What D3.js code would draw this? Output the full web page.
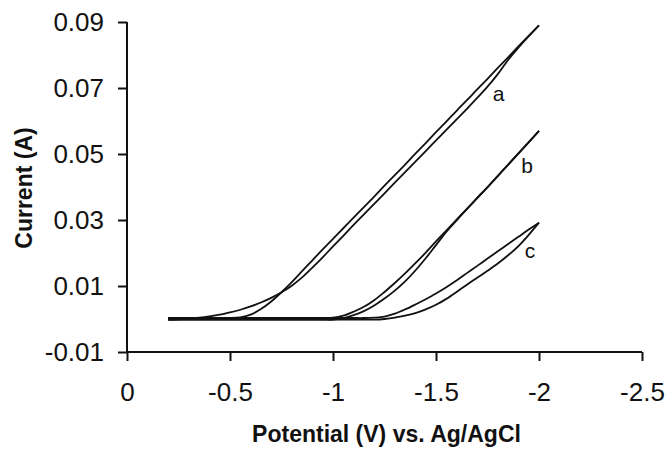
<!DOCTYPE html>
<html>
<head>
<meta charset="utf-8">
<script src="https://cdn.jsdelivr.net/npm/d3@7"></script>
<style>
  html, body { margin: 0; padding: 0; background: #fff; }
  svg { display: block; }
  text { font-family: "Liberation Sans", Arial, Helvetica, sans-serif; fill: #111; }
</style>
</head>
<body>
<svg id="chart" width="671" height="449"></svg>
<script>
// Cyclic voltammograms: potential grid (V vs. Ag/AgCl), current in A
const potential = [-0.20, -0.25, -0.30, -0.35, -0.40, -0.45, -0.50, -0.55, -0.60, -0.65,
  -0.70, -0.75, -0.80, -0.85, -0.90, -0.95, -1.00, -1.05, -1.10, -1.15,
  -1.20, -1.25, -1.30, -1.35, -1.40, -1.45, -1.50, -1.55, -1.60, -1.65,
  -1.70, -1.75, -1.80, -1.85, -1.90, -1.95, -2.00];

// curve a
const aCathodic = [0.0003, 0.0003, 0.0003, 0.0003, 0.0003, 0.0003, 0.0003, 0.0005, 0.0013, 0.0030,
  0.0053, 0.0081, 0.0112, 0.0145, 0.0178, 0.0211, 0.0243, 0.0275, 0.0307, 0.0339,
  0.0371, 0.0404, 0.0436, 0.0468, 0.0501, 0.0533, 0.0566, 0.0598, 0.0631, 0.0663,
  0.0696, 0.0728, 0.0761, 0.0793, 0.0826, 0.0858, 0.0890];
const aAnodic = [-0.0002, -0.0001, 0.0001, 0.0004, 0.0008, 0.0013, 0.0020, 0.0028, 0.0038, 0.0050,
  0.0064, 0.0081, 0.0101, 0.0126, 0.0156, 0.0187, 0.0220, 0.0252, 0.0285, 0.0317,
  0.0349, 0.0381, 0.0413, 0.0445, 0.0477, 0.0509, 0.0541, 0.0573, 0.0605, 0.0637,
  0.0670, 0.0704, 0.0742, 0.0785, 0.0822, 0.0857, 0.0890];

// curve b
const bCathodic = [0.0003, 0.0003, 0.0003, 0.0003, 0.0003, 0.0003, 0.0003, 0.0003, 0.0003, 0.0003,
  0.0003, 0.0003, 0.0003, 0.0003, 0.0003, 0.0003, 0.0004, 0.0010, 0.0022, 0.0037,
  0.0057, 0.0082, 0.0109, 0.0138, 0.0169, 0.0201, 0.0235, 0.0268, 0.0301, 0.0334,
  0.0367, 0.0400, 0.0434, 0.0468, 0.0502, 0.0536, 0.0570];
const bAnodic = [-0.0002, -0.0002, -0.0002, -0.0002, -0.0002, -0.0002, -0.0002, -0.0002, -0.0002, -0.0002,
  -0.0002, -0.0002, -0.0002, -0.0002, -0.0002, -0.0002, -0.0002, 0.0003, 0.0012, 0.0024,
  0.0041, 0.0062, 0.0086, 0.0114, 0.0147, 0.0184, 0.0224, 0.0264, 0.0299, 0.0333,
  0.0366, 0.0399, 0.0433, 0.0467, 0.0501, 0.0535, 0.0570];

// curve c
const cCathodic = [0.0003, 0.0003, 0.0003, 0.0003, 0.0003, 0.0003, 0.0003, 0.0003, 0.0003, 0.0003,
  0.0003, 0.0003, 0.0003, 0.0003, 0.0003, 0.0003, 0.0003, 0.0003, 0.0003, 0.0003,
  0.0004, 0.0007, 0.0016, 0.0029, 0.0044, 0.0060, 0.0077, 0.0096, 0.0117, 0.0139,
  0.0161, 0.0183, 0.0205, 0.0227, 0.0249, 0.0271, 0.0292];
const cAnodic = [-0.0002, -0.0002, -0.0002, -0.0002, -0.0002, -0.0002, -0.0002, -0.0002, -0.0002, -0.0002,
  -0.0002, -0.0002, -0.0002, -0.0002, -0.0002, -0.0002, -0.0002, -0.0002, -0.0002, -0.0002,
  -0.0002, 0.0000, 0.0004, 0.0010, 0.0018, 0.0029, 0.0043, 0.0061, 0.0082, 0.0104,
  0.0125, 0.0146, 0.0168, 0.0193, 0.0221, 0.0255, 0.0292];

const curveNames = ["a", "b", "c"];
// label anchor for each curve, in data units [potential, current]
const labelPotential = [-1.804, -1.942, -1.956];
const labelCurrent = [0.0662, 0.0441, 0.0184];

const xTicks = [0, -0.5, -1, -1.5, -2, -2.5];
const yTicks = [-0.01, 0.01, 0.03, 0.05, 0.07, 0.09];

const xTitle = "Potential (V) vs. Ag/AgCl";
const yTitle = "Current (A)";

// ---- layout ----
const W = 671, H = 449;
const margin = { top: 22, right: 29, bottom: 97, left: 127 };
const svg = d3.select("#chart");

const x = d3.scaleLinear().domain([0, -2.5]).range([margin.left, W - margin.right]);
const y = d3.scaleLinear().domain([-0.01, 0.09]).range([H - margin.bottom, margin.top]);

// axes (plain hyphen-minus in the labels)
const xAxis = d3.axisBottom(x).tickValues(xTicks).tickSize(9).tickPadding(22)
  .tickFormat(d => String(d));
const yAxis = d3.axisLeft(y).tickValues(yTicks).tickSize(9).tickPadding(14)
  .tickFormat(d => d.toFixed(2));

const gx = svg.append("g").attr("transform", `translate(0,${H - margin.bottom})`).call(xAxis);
const gy = svg.append("g").attr("transform", `translate(${margin.left},0)`).call(yAxis);

[gx, gy].forEach(g => {
  g.select(".domain").attr("stroke", "#111").attr("stroke-width", 2);
  g.selectAll(".tick line").attr("stroke", "#111").attr("stroke-width", 2);
  g.selectAll(".tick text").attr("font-size", 26).attr("fill", "#111")
    .attr("font-family", "'Liberation Sans', Arial, sans-serif");
});
// plain axis lines without outer ticks
gx.select(".domain").attr("d", `M${x(0)},0H${x(-2.5)}`);
gy.select(".domain").attr("d", `M0,${y(-0.01)}V${y(0.09)}`);

// titles
svg.append("text")
  .attr("x", (x(0) + x(-2.5)) / 2 + 2)
  .attr("y", 442)
  .attr("text-anchor", "middle")
  .attr("font-size", 23).attr("font-weight", "bold")
  .text(xTitle);

svg.append("text")
  .attr("transform", `translate(32,${(y(-0.01) + y(0.09)) / 2 + 1}) rotate(-90)`)
  .attr("text-anchor", "middle")
  .attr("font-size", 23).attr("font-weight", "bold")
  .text(yTitle);

// curves
const line = d3.line()
  .x(d => x(d[0]))
  .y(d => y(d[1]))
  .curve(d3.curveCatmullRom.alpha(0.5));

const branches = [aCathodic, aAnodic, bCathodic, bAnodic, cCathodic, cAnodic];
svg.append("g")
  .selectAll("path")
  .data(branches)
  .join("path")
  .attr("d", vals => line(potential.map((p, i) => [p, vals[i]])))
  .attr("fill", "none")
  .attr("stroke", "#111")
  .attr("stroke-width", 1.8)
  .attr("stroke-linejoin", "round");

// curve labels
svg.append("g")
  .selectAll("text")
  .data(curveNames)
  .join("text")
  .attr("x", (d, i) => x(labelPotential[i]))
  .attr("y", (d, i) => y(labelCurrent[i]))
  .attr("text-anchor", "middle")
  .attr("font-size", 21)
  .text(d => d);
</script>
</body>
</html>
